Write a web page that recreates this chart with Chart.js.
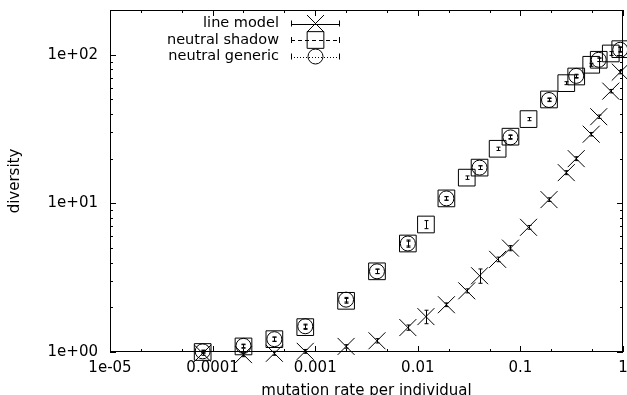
<!DOCTYPE html>
<html lang="en">
<head>
  <meta charset="UTF-8">
  <title>diversity vs mutation rate</title>
  <script src="https://cdn.jsdelivr.net/npm/chart.js"></script>
  <style>
    html, body { margin: 0; padding: 0; background: #fff; }
    .chart-container { width: 627px; height: 395px; }
  </style>
</head>
<body>
  <div class="chart-container">
    <canvas id="chartCanvas" width="627" height="395"></canvas>
  </div>

  <script>
    // mutation rate per individual (x) for line model + neutral shadow
    const rates = [0.00008, 0.0002, 0.0004, 0.0008, 0.002, 0.004, 0.008, 0.012, 0.019, 0.03, 0.04,
                   0.06, 0.08, 0.12, 0.19, 0.28, 0.35, 0.49, 0.58, 0.76, 0.94];
    const lineModel = [0.98, 0.96, 0.98, 1.01, 1.09, 1.19, 1.46, 1.73, 2.08, 2.58, 3.26,
                       4.2, 5.0, 6.9, 10.6, 16.1, 20.0, 29.2, 38.3, 56.9, 76.4];
    const lineModelErr = [0.03, 0.03, 0.03, 0.03, 0.03, 0.04, 0.06, 0.18, 0.06, 0.08, 0.36,
                          0.15, 0.2, 0.2, 0.3, 0.5, 0.6, 0.8, 1.0, 1.5, 2.0];
    const neutralShadow = [1.0, 1.09, 1.22, 1.47, 2.21, 3.49, 5.37, 7.21, 10.8, 14.9, 17.4,
                           23.3, 28.1, 36.9, 50.0, 64.4, 71.4, 85.6, 92.5, 102, 109];
    const neutralShadowErr = [0.02, 0.03, 0.04, 0.05, 0.08, 0.12, 0.2, 0.45, 0.3, 0.4, 0.5,
                              0.6, 0.8, 0.9, 1.2, 1.5, 1.8, 2.0, 2.5, 3.0, 4.0];
    // neutral generic was only run at some of the rates
    const genericRates = [0.00008, 0.0002, 0.0004, 0.0008, 0.002, 0.004, 0.008, 0.019, 0.04,
                          0.08, 0.19, 0.35, 0.58, 0.94];
    const neutralGeneric = [1.01, 1.1, 1.22, 1.49, 2.25, 3.49, 5.37, 10.8, 17.4,
                            27.8, 49.6, 72.1, 92.5, 108];
    const neutralGenericErr = [0.02, 0.03, 0.04, 0.05, 0.08, 0.12, 0.3, 0.3, 0.5,
                               0.8, 1.2, 1.8, 2.5, 4.0];

    const seriesNames = ['line model', 'neutral shadow', 'neutral generic'];

    const xTicks = [1e-5, 1e-4, 1e-3, 1e-2, 1e-1, 1];
    const xTickLabels = ['1e-05', '0.0001', '0.001', '0.01', '0.1', '1'];
    const yTicks = [1, 10, 100];
    const yTickLabels = ['1e+00', '1e+01', '1e+02'];

    const FONT = '"DejaVu Sans", "Liberation Sans", sans-serif';
    Chart.defaults.font.family = FONT;
    Chart.defaults.font.size = 15;
    Chart.defaults.color = '#000';

    const pts = (xs, ys) => xs.map((x, i) => ({ x: x, y: ys[i] }));

    // frame + gnuplot style inward ticks
    const framePlugin = {
      id: 'frame',
      beforeDatasetsDraw(chart) {
        const { ctx, chartArea: a, scales } = chart;
        const xs = scales.x, ys = scales.y;
        ctx.save();
        ctx.strokeStyle = '#000';
        ctx.lineWidth = 1;
        ctx.strokeRect(a.left + 0.5, a.top + 0.5, a.right - a.left - 1, a.bottom - a.top - 1);
        ctx.beginPath();
        xTicks.forEach((d, k) => {
          const px = Math.round(xs.getPixelForValue(d)) + 0.5;
          ctx.moveTo(px, a.bottom); ctx.lineTo(px, a.bottom - 6);
          ctx.moveTo(px, a.top); ctx.lineTo(px, a.top + 6);
          if (k < xTicks.length - 1) {
            [2, 5].forEach(m => {
              const p = Math.round(xs.getPixelForValue(d * m)) + 0.5;
              ctx.moveTo(p, a.bottom); ctx.lineTo(p, a.bottom - 3);
              ctx.moveTo(p, a.top); ctx.lineTo(p, a.top + 3);
            });
          }
        });
        yTicks.forEach(d => {
          const py = Math.round(ys.getPixelForValue(d)) + 0.5;
          ctx.moveTo(a.left, py); ctx.lineTo(a.left + 6, py);
          ctx.moveTo(a.right, py); ctx.lineTo(a.right - 6, py);
          for (let m = 2; m <= 9; m++) {
            const v = d * m;
            if (v > ys.max) break;
            const p = Math.round(ys.getPixelForValue(v)) + 0.5;
            ctx.moveTo(a.left, p); ctx.lineTo(a.left + 3, p);
            ctx.moveTo(a.right, p); ctx.lineTo(a.right - 3, p);
          }
        });
        ctx.stroke();
        ctx.restore();
      }
    };

    // vertical error bars with small caps
    const errorBarPlugin = {
      id: 'errorBars',
      afterDatasetsDraw(chart) {
        const { ctx, scales } = chart;
        ctx.save();
        ctx.strokeStyle = '#000';
        ctx.lineWidth = 1;
        chart.data.datasets.forEach(ds => {
          if (!ds.errors) return;
          ctx.beginPath();
          ds.data.forEach((p, i) => {
            const e = ds.errors[i];
            const px = Math.round(scales.x.getPixelForValue(p.x)) + 0.5;
            const top = scales.y.getPixelForValue(p.y + e);
            const bot = scales.y.getPixelForValue(p.y - e);
            ctx.moveTo(px, top); ctx.lineTo(px, bot);
            ctx.moveTo(px - 2, top); ctx.lineTo(px + 2, top);
            ctx.moveTo(px - 2, bot); ctx.lineTo(px + 2, bot);
          });
          ctx.stroke();
        });
        ctx.restore();
      }
    };

    // key in the top left, text right-aligned before the sample
    const keyPlugin = {
      id: 'gnuKey',
      afterDraw(chart) {
        const ctx = chart.ctx;
        ctx.save();
        ctx.font = '14.5px ' + FONT;
        ctx.textAlign = 'right';
        ctx.textBaseline = 'middle';
        chart.data.datasets.forEach((ds, i) => {
          const y = 23.5 + i * 16.5;
          ctx.fillStyle = '#000';
          ctx.fillText(ds.label, 279, y);
          ctx.strokeStyle = '#000';
          ctx.lineWidth = 1;
          ctx.setLineDash(ds.keyDash);
          ctx.beginPath();
          ctx.moveTo(291, Math.round(y) + 0.5); ctx.lineTo(340, Math.round(y) + 0.5);
          ctx.stroke();
          ctx.setLineDash([]);
          ctx.beginPath();
          ctx.moveTo(291.5, y - 3); ctx.lineTo(291.5, y + 3);
          ctx.moveTo(339.5, y - 3); ctx.lineTo(339.5, y + 3);
          ctx.stroke();
          ctx.fillStyle = 'rgba(0,0,0,0)';
          Chart.helpers.drawPoint(ctx, {
            pointStyle: ds.pointStyle, radius: ds.pointRadius, rotation: 0, borderWidth: 1
          }, 315.5, y);
        });
        ctx.restore();
      }
    };

    const ctx = document.getElementById('chartCanvas').getContext('2d');
    const chart = new Chart(ctx, {
      type: 'scatter',
      data: {
        datasets: [{
          label: seriesNames[0],
          data: pts(rates, lineModel),
          errors: lineModelErr,
          pointStyle: 'crossRot',
          pointRadius: 12,
          keyDash: [],
          borderColor: '#000',
          backgroundColor: 'rgba(0,0,0,0)',
          borderWidth: 1,
          clip: false
        }, {
          label: seriesNames[1],
          data: pts(rates, neutralShadow),
          errors: neutralShadowErr,
          pointStyle: 'rect',
          pointRadius: 11.8,
          keyDash: [4, 3],
          borderColor: '#000',
          backgroundColor: 'rgba(0,0,0,0)',
          borderWidth: 1,
          clip: false
        }, {
          label: seriesNames[2],
          data: pts(genericRates, neutralGeneric),
          errors: neutralGenericErr,
          pointStyle: 'circle',
          pointRadius: 7.5,
          keyDash: [1, 2],
          borderColor: '#000',
          backgroundColor: 'rgba(0,0,0,0)',
          borderWidth: 1,
          clip: false
        }]
      },
      options: {
        responsive: false,
        animation: { duration: 0 },
        events: [],
        layout: { autoPadding: false, padding: { top: 10, right: 4, left: 0, bottom: 0 } },
        plugins: {
          legend: { display: false },
          tooltip: { enabled: false }
        },
        scales: {
          x: {
            type: 'logarithmic',
            position: 'bottom',
            min: 1e-5,
            max: 1,
            grid: { display: false, drawTicks: false },
            border: { display: false },
            afterBuildTicks: s => { s.ticks = xTicks.map(v => ({ value: v })); },
            afterFit: s => {
              s.height = 43;
              s.paddingLeft = 0; s.paddingRight = 0;
            },
            ticks: {
              autoSkip: false,
              maxRotation: 0,
              padding: 7,
              callback: (v, i) => xTickLabels[i]
            },
            title: {
              display: true,
              text: 'mutation rate per individual',
              font: { size: 15, lineHeight: 1 },
              padding: { top: 0, bottom: -4 }
            }
          },
          y: {
            type: 'logarithmic',
            position: 'left',
            min: 1,
            max: 200,
            grid: { display: false, drawTicks: false },
            border: { display: false },
            afterBuildTicks: s => { s.ticks = yTicks.map(v => ({ value: v })); },
            afterFit: s => {
              s.width = 110;
              s.paddingTop = 0; s.paddingBottom = 0;
            },
            ticks: {
              autoSkip: false,
              padding: 12,
              callback: (v, i) => yTickLabels[i]
            },
            title: {
              display: true,
              text: 'diversity',
              font: { size: 15, lineHeight: 1 },
              padding: { top: 8, bottom: 0 }
            }
          }
        }
      },
      plugins: [framePlugin, errorBarPlugin, keyPlugin]
    });
  </script>
</body>
</html>
